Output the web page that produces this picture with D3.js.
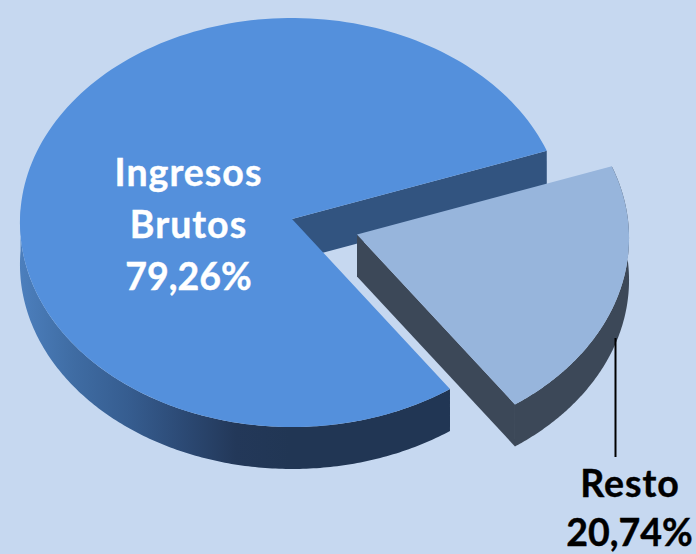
<!DOCTYPE html>
<html><head><meta charset="utf-8">
<script src="https://cdn.jsdelivr.net/npm/d3@7"></script>
<style>html,body{margin:0;padding:0;background:#c6d8f0;overflow:hidden}svg{display:block}text{font-family:Lato,"Open Sans",sans-serif;font-weight:700}</style>
</head><body><svg id="c" width="696" height="554"></svg>
<script>
const categories = ["Resto", "Ingresos Brutos"];
const seriesValues = [20.74, 79.26];
const valueLabels = ["20,74%", "79,26%"];
const W = 696, H = 554;
const cx = 292, cy = 219, rx = 272, ry = 204.44, persp = -0.0171, depth = 42;
const explode = [[65, 15.5], [0, 0]];
const startDeg = 70.4;
const topFill = ["#97b5dc", "#5490dc"];
const svg = d3.select("#c");
svg.append("rect").attr("width", W).attr("height", H).attr("fill", "#c6d8f0");

const grad = svg.append("defs").append("linearGradient").attr("id", "wallMain").attr("gradientUnits", "userSpaceOnUse")
  .attr("x1", 20).attr("x2", 290).attr("y1", 0).attr("y2", 0);
[[0, "#4c7fbd"], [0.2, "#3f6ca3"], [0.4, "#365d90"], [0.6, "#2c4a75"], [0.8, "#233859"], [1, "#213654"]]
  .forEach(s => grad.append("stop").attr("offset", s[0]).attr("stop-color", s[1]));

const start = startDeg * Math.PI / 180;
const slices = d3.pie().sort(null).startAngle(start).endAngle(start + 2 * Math.PI)(seriesValues);

// slight perspective: the tilted disc's rim
const w = a => 1 - persp * Math.cos(a);
const px = (a, i) => cx + explode[i][0] + rx * Math.sin(a) / w(a);
const py = (a, i) => cy + explode[i][1] - ry * Math.cos(a) / w(a);
const rim = (a0, a1) => d3.range(0, 181).map(k => a0 + (a1 - a0) * k / 180);
const wall = i => d3.area().x(a => px(a, i)).y0(a => py(a, i)).y1(a => py(a, i) + depth);
const line = d3.line().curve(d3.curveLinearClosed);
const apex = i => [cx + explode[i][0], cy + explode[i][1]];

const radial = (a, i) => {
  const [x0, y0] = apex(i);
  return [[x0, y0], [px(a, i), py(a, i)], [px(a, i), py(a, i) + depth], [x0, y0 + depth]];
};
const face = i => [apex(i)].concat(rim(slices[i].startAngle, slices[i].endAngle).map(a => [px(a, i), py(a, i)]));
const outer = s => rim(s.startAngle, Math.min(s.endAngle, 1.5 * Math.PI + 0.05));

// main slice
svg.append("path").attr("d", line(radial(slices[1].endAngle, 1))).attr("fill", "#325480");
svg.append("path").attr("d", wall(1)(outer(slices[1]))).attr("fill", "url(#wallMain)");
svg.append("path").attr("d", line(face(1))).attr("fill", topFill[1]);
// exploded slice
svg.append("path").attr("d", line(radial(slices[0].endAngle, 0))).attr("fill", "#3c4858");
svg.append("path").attr("d", wall(0)(outer(slices[0]))).attr("fill", "#3c4858");
svg.append("path").attr("d", line(face(0))).attr("fill", topFill[0]);

// leader line
svg.append("line").attr("x1", 615.5).attr("x2", 615.5).attr("y1", 338).attr("y2", 457)
  .attr("stroke", "#000").attr("stroke-width", 2);

const fs = 37.5;
const t1 = ["Ingresos", "Brutos", valueLabels[1]];
svg.selectAll("text.a").data(t1).join("text").attr("class", "a")
  .attr("x", 188.5).attr("y", (d, i) => 186 + i * 52)
  .attr("text-anchor", "middle").attr("font-size", fs).attr("fill", "#fff")
  .attr("stroke", "#fff").attr("stroke-width", 0.4)
  .attr("letter-spacing", (d, i) => i < 2 ? 1 : 0).text(d => d);
const t2 = [categories[0], valueLabels[0]];
svg.selectAll("text.b").data(t2).join("text").attr("class", "b")
  .attr("x", (d, i) => i ? 629.5 : 630).attr("y", (d, i) => 497 + i * 49)
  .attr("text-anchor", "middle").attr("font-size", fs).attr("fill", "#000")
  .attr("stroke", "#000").attr("stroke-width", 0.4)
  .attr("letter-spacing", (d, i) => i ? 0 : 1).text(d => d);
</script></body></html>
